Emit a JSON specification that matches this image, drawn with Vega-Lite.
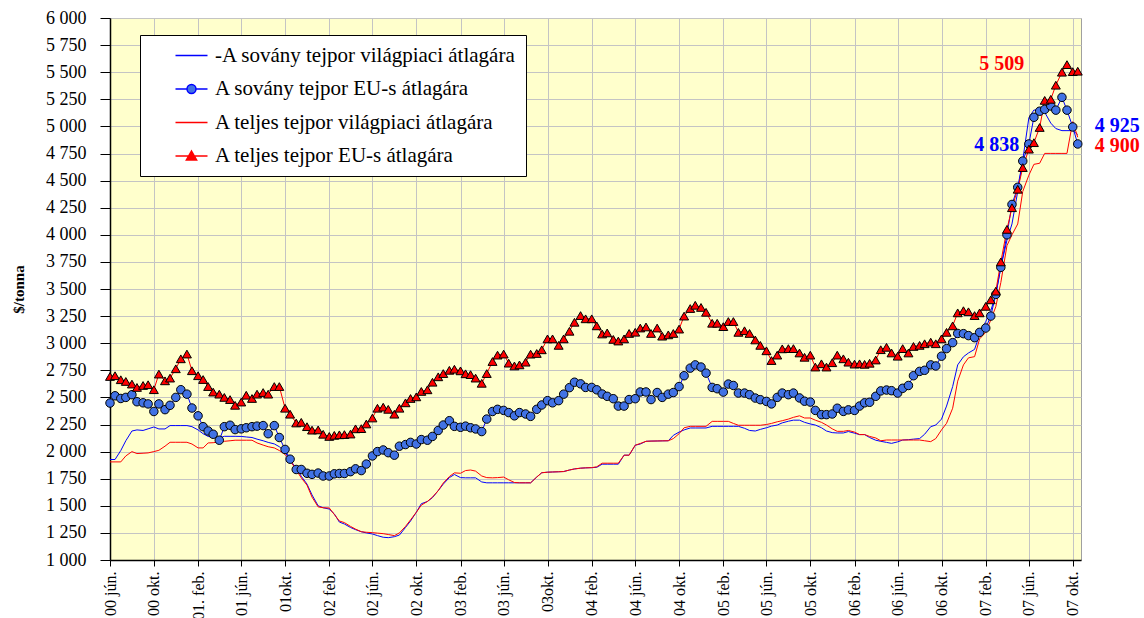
{
  "$schema": "https://vega.github.io/schema/vega-lite/v6.json",
  "width": 971,
  "height": 542,
  "autosize": "none",
  "padding": {"left": 110, "top": 18, "right": 63, "bottom": 58},
  "background": "#FFFFFF",
  "config": {
    "view": {"fill": "#FFFFCC", "stroke": "#A0A0A0", "strokeWidth": 1},
    "locale": {"number": {"decimal": ",", "thousands": " ", "grouping": [3], "currency": ["", " $"]}},
    "font": "Liberation Serif",
    "legend": {"labelFont": "Liberation Serif", "labelFontSize": 21, "labelColor": "#000000", "labelLimit": 600}
  },
  "data": {"values": [
    {"d":"2000-06-01","ws":1927,"s":2448,"wt":1905,"t":2693},
    {"d":"2000-06-15","ws":1927,"s":2515,"wt":1905,"t":2700},
    {"d":"2000-07-01","ws":2010,"s":2490,"wt":1905,"t":2663},
    {"d":"2000-07-15","ws":2100,"s":2500,"wt":1960,"t":2647},
    {"d":"2000-08-01","ws":2190,"s":2525,"wt":2000,"t":2623},
    {"d":"2000-08-15","ws":2200,"s":2460,"wt":1982,"t":2592},
    {"d":"2000-09-01","ws":2195,"s":2450,"wt":1985,"t":2610},
    {"d":"2000-09-15","ws":2210,"s":2440,"wt":1988,"t":2617},
    {"d":"2000-10-01","ws":2227,"s":2370,"wt":2000,"t":2571},
    {"d":"2000-10-15","ws":2209,"s":2440,"wt":2012,"t":2715},
    {"d":"2000-11-01","ws":2209,"s":2387,"wt":2050,"t":2653},
    {"d":"2000-11-15","ws":2240,"s":2427,"wt":2086,"t":2678},
    {"d":"2000-12-01","ws":2240,"s":2500,"wt":2086,"t":2764},
    {"d":"2000-12-15","ws":2240,"s":2571,"wt":2086,"t":2856},
    {"d":"2001-01-01","ws":2240,"s":2530,"wt":2086,"t":2900},
    {"d":"2001-01-15","ws":2230,"s":2402,"wt":2070,"t":2746},
    {"d":"2001-02-01","ws":2200,"s":2330,"wt":2034,"t":2700},
    {"d":"2001-02-15","ws":2165,"s":2230,"wt":2034,"t":2665},
    {"d":"2001-03-01","ws":2140,"s":2190,"wt":2080,"t":2600},
    {"d":"2001-03-15","ws":2130,"s":2160,"wt":2082,"t":2549},
    {"d":"2001-04-01","ws":2126,"s":2105,"wt":2090,"t":2530},
    {"d":"2001-04-15","ws":2141,"s":2230,"wt":2095,"t":2500},
    {"d":"2001-05-01","ws":2141,"s":2243,"wt":2100,"t":2480},
    {"d":"2001-05-15","ws":2141,"s":2203,"wt":2105,"t":2427},
    {"d":"2001-06-01","ws":2140,"s":2210,"wt":2105,"t":2457},
    {"d":"2001-06-15","ws":2135,"s":2220,"wt":2105,"t":2520},
    {"d":"2001-07-01","ws":2130,"s":2230,"wt":2105,"t":2490},
    {"d":"2001-07-15","ws":2115,"s":2235,"wt":2080,"t":2530},
    {"d":"2001-08-01","ws":2100,"s":2240,"wt":2060,"t":2545},
    {"d":"2001-08-15","ws":2085,"s":2165,"wt":2045,"t":2530},
    {"d":"2001-09-01","ws":2071,"s":2240,"wt":2034,"t":2600},
    {"d":"2001-09-15","ws":2045,"s":2130,"wt":2010,"t":2600},
    {"d":"2001-10-01","ws":2000,"s":2020,"wt":1973,"t":2400},
    {"d":"2001-10-15","ws":1910,"s":1930,"wt":1920,"t":2345},
    {"d":"2001-11-01","ws":1850,"s":1835,"wt":1830,"t":2264},
    {"d":"2001-11-15","ws":1773,"s":1835,"wt":1758,"t":2270},
    {"d":"2001-12-01","ws":1700,"s":1800,"wt":1690,"t":2230},
    {"d":"2001-12-15","ws":1600,"s":1790,"wt":1580,"t":2198},
    {"d":"2002-01-01","ws":1500,"s":1802,"wt":1490,"t":2200},
    {"d":"2002-01-15","ws":1482,"s":1775,"wt":1482,"t":2160},
    {"d":"2002-02-01","ws":1470,"s":1775,"wt":1480,"t":2140},
    {"d":"2002-02-15","ws":1425,"s":1795,"wt":1420,"t":2150},
    {"d":"2002-03-01","ws":1350,"s":1798,"wt":1360,"t":2155},
    {"d":"2002-03-15","ws":1332,"s":1798,"wt":1345,"t":2157},
    {"d":"2002-04-01","ws":1300,"s":1815,"wt":1310,"t":2162},
    {"d":"2002-04-15","ws":1280,"s":1841,"wt":1285,"t":2210},
    {"d":"2002-05-01","ws":1261,"s":1825,"wt":1261,"t":2212},
    {"d":"2002-05-15","ws":1250,"s":1885,"wt":1256,"t":2255},
    {"d":"2002-06-01","ws":1240,"s":1960,"wt":1252,"t":2310},
    {"d":"2002-06-15","ws":1225,"s":2000,"wt":1248,"t":2400},
    {"d":"2002-07-01","ws":1210,"s":2015,"wt":1243,"t":2410},
    {"d":"2002-07-15","ws":1206,"s":1990,"wt":1235,"t":2390},
    {"d":"2002-08-01","ws":1215,"s":1967,"wt":1225,"t":2345},
    {"d":"2002-08-15","ws":1230,"s":2050,"wt":1250,"t":2400},
    {"d":"2002-09-01","ws":1300,"s":2065,"wt":1310,"t":2450},
    {"d":"2002-09-15","ws":1360,"s":2085,"wt":1370,"t":2490},
    {"d":"2002-10-01","ws":1440,"s":2070,"wt":1440,"t":2505},
    {"d":"2002-10-15","ws":1519,"s":2111,"wt":1506,"t":2555},
    {"d":"2002-11-01","ws":1540,"s":2105,"wt":1540,"t":2570},
    {"d":"2002-11-15","ws":1575,"s":2140,"wt":1580,"t":2640},
    {"d":"2002-12-01","ws":1640,"s":2195,"wt":1640,"t":2690},
    {"d":"2002-12-15","ws":1700,"s":2245,"wt":1710,"t":2720},
    {"d":"2003-01-01","ws":1760,"s":2285,"wt":1770,"t":2750},
    {"d":"2003-01-15","ws":1789,"s":2233,"wt":1804,"t":2760},
    {"d":"2003-02-01","ws":1760,"s":2224,"wt":1800,"t":2745},
    {"d":"2003-02-15","ws":1758,"s":2235,"wt":1825,"t":2718},
    {"d":"2003-03-01","ws":1758,"s":2220,"wt":1830,"t":2710},
    {"d":"2003-03-15","ws":1758,"s":2209,"wt":1820,"t":2678},
    {"d":"2003-04-01","ws":1720,"s":2185,"wt":1775,"t":2630},
    {"d":"2003-04-15","ws":1712,"s":2300,"wt":1760,"t":2720},
    {"d":"2003-05-01","ws":1712,"s":2370,"wt":1758,"t":2831},
    {"d":"2003-05-15","ws":1712,"s":2390,"wt":1760,"t":2890},
    {"d":"2003-06-01","ws":1712,"s":2380,"wt":1765,"t":2900},
    {"d":"2003-06-15","ws":1712,"s":2360,"wt":1740,"t":2816},
    {"d":"2003-07-01","ws":1712,"s":2330,"wt":1715,"t":2790},
    {"d":"2003-07-15","ws":1712,"s":2360,"wt":1712,"t":2800},
    {"d":"2003-08-01","ws":1712,"s":2347,"wt":1712,"t":2825},
    {"d":"2003-08-15","ws":1712,"s":2325,"wt":1712,"t":2899},
    {"d":"2003-09-01","ws":1765,"s":2390,"wt":1765,"t":2905},
    {"d":"2003-09-15","ws":1805,"s":2430,"wt":1805,"t":2939},
    {"d":"2003-10-01","ws":1810,"s":2470,"wt":1810,"t":3040},
    {"d":"2003-10-15","ws":1812,"s":2450,"wt":1812,"t":3040},
    {"d":"2003-11-01","ws":1814,"s":2470,"wt":1814,"t":2980},
    {"d":"2003-11-15","ws":1816,"s":2530,"wt":1816,"t":3040},
    {"d":"2003-12-01","ws":1830,"s":2590,"wt":1830,"t":3110},
    {"d":"2003-12-15","ws":1840,"s":2640,"wt":1840,"t":3193},
    {"d":"2004-01-01","ws":1847,"s":2625,"wt":1847,"t":3255},
    {"d":"2004-01-15","ws":1850,"s":2592,"wt":1850,"t":3225},
    {"d":"2004-02-01","ws":1852,"s":2592,"wt":1852,"t":3225},
    {"d":"2004-02-15","ws":1855,"s":2570,"wt":1860,"t":3160},
    {"d":"2004-03-01","ws":1884,"s":2531,"wt":1893,"t":3085},
    {"d":"2004-03-15","ws":1884,"s":2510,"wt":1893,"t":3095},
    {"d":"2004-04-01","ws":1884,"s":2488,"wt":1893,"t":3035},
    {"d":"2004-04-15","ws":1884,"s":2420,"wt":1893,"t":3020},
    {"d":"2004-05-01","ws":1967,"s":2420,"wt":1967,"t":3040},
    {"d":"2004-05-15","ws":1967,"s":2480,"wt":1967,"t":3090},
    {"d":"2004-06-01","ws":2059,"s":2488,"wt":2059,"t":3101},
    {"d":"2004-06-15","ws":2070,"s":2550,"wt":2075,"t":3140},
    {"d":"2004-07-01","ws":2095,"s":2550,"wt":2095,"t":3150},
    {"d":"2004-07-15","ws":2097,"s":2480,"wt":2097,"t":3090},
    {"d":"2004-08-01","ws":2098,"s":2545,"wt":2098,"t":3140},
    {"d":"2004-08-15","ws":2099,"s":2500,"wt":2099,"t":3065},
    {"d":"2004-09-01","ws":2100,"s":2530,"wt":2100,"t":3077},
    {"d":"2004-09-15","ws":2150,"s":2545,"wt":2120,"t":3090},
    {"d":"2004-10-01","ws":2180,"s":2600,"wt":2165,"t":3130},
    {"d":"2004-10-15","ws":2200,"s":2700,"wt":2220,"t":3250},
    {"d":"2004-11-01","ws":2218,"s":2770,"wt":2233,"t":3320},
    {"d":"2004-11-15","ws":2218,"s":2800,"wt":2233,"t":3350},
    {"d":"2004-12-01","ws":2218,"s":2780,"wt":2233,"t":3330},
    {"d":"2004-12-15","ws":2218,"s":2724,"wt":2233,"t":3285},
    {"d":"2005-01-01","ws":2233,"s":2592,"wt":2279,"t":3184},
    {"d":"2005-01-15","ws":2233,"s":2580,"wt":2279,"t":3184},
    {"d":"2005-02-01","ws":2233,"s":2549,"wt":2279,"t":3153},
    {"d":"2005-02-15","ws":2233,"s":2623,"wt":2279,"t":3200},
    {"d":"2005-03-01","ws":2233,"s":2610,"wt":2260,"t":3200},
    {"d":"2005-03-15","ws":2233,"s":2540,"wt":2243,"t":3100},
    {"d":"2005-04-01","ws":2215,"s":2540,"wt":2243,"t":3115},
    {"d":"2005-04-15","ws":2195,"s":2525,"wt":2243,"t":3090},
    {"d":"2005-05-01","ws":2190,"s":2494,"wt":2243,"t":3030},
    {"d":"2005-05-15","ws":2205,"s":2479,"wt":2243,"t":2980},
    {"d":"2005-06-01","ws":2220,"s":2463,"wt":2250,"t":2930},
    {"d":"2005-06-15","ws":2235,"s":2440,"wt":2260,"t":2840},
    {"d":"2005-07-01","ws":2245,"s":2500,"wt":2275,"t":2890},
    {"d":"2005-07-15","ws":2265,"s":2540,"wt":2285,"t":2948},
    {"d":"2005-08-01","ws":2280,"s":2525,"wt":2300,"t":2950},
    {"d":"2005-08-15","ws":2290,"s":2540,"wt":2316,"t":2950},
    {"d":"2005-09-01","ws":2290,"s":2495,"wt":2330,"t":2910},
    {"d":"2005-09-15","ws":2270,"s":2465,"wt":2310,"t":2870},
    {"d":"2005-10-01","ws":2255,"s":2457,"wt":2310,"t":2890},
    {"d":"2005-10-15","ws":2245,"s":2380,"wt":2290,"t":2780},
    {"d":"2005-11-01","ws":2220,"s":2341,"wt":2270,"t":2810},
    {"d":"2005-11-15","ws":2190,"s":2341,"wt":2245,"t":2780},
    {"d":"2005-12-01","ws":2175,"s":2347,"wt":2210,"t":2820},
    {"d":"2005-12-15","ws":2172,"s":2400,"wt":2187,"t":2890},
    {"d":"2006-01-01","ws":2172,"s":2371,"wt":2187,"t":2856},
    {"d":"2006-01-15","ws":2185,"s":2385,"wt":2195,"t":2825},
    {"d":"2006-02-01","ws":2170,"s":2380,"wt":2180,"t":2807},
    {"d":"2006-02-15","ws":2157,"s":2420,"wt":2157,"t":2810},
    {"d":"2006-03-01","ws":2157,"s":2450,"wt":2157,"t":2805},
    {"d":"2006-03-15","ws":2130,"s":2455,"wt":2140,"t":2815},
    {"d":"2006-04-01","ws":2105,"s":2510,"wt":2126,"t":2845},
    {"d":"2006-04-15","ws":2095,"s":2560,"wt":2100,"t":2940},
    {"d":"2006-05-01","ws":2085,"s":2568,"wt":2107,"t":2962},
    {"d":"2006-05-15","ws":2076,"s":2562,"wt":2107,"t":2910},
    {"d":"2006-06-01","ws":2090,"s":2540,"wt":2107,"t":2880},
    {"d":"2006-06-15","ws":2107,"s":2584,"wt":2107,"t":2950},
    {"d":"2006-07-01","ws":2110,"s":2610,"wt":2107,"t":2910},
    {"d":"2006-07-15","ws":2115,"s":2700,"wt":2107,"t":2970},
    {"d":"2006-08-01","ws":2120,"s":2740,"wt":2107,"t":2980},
    {"d":"2006-08-15","ws":2160,"s":2750,"wt":2100,"t":2995},
    {"d":"2006-09-01","ws":2230,"s":2800,"wt":2092,"t":3010},
    {"d":"2006-09-15","ws":2245,"s":2790,"wt":2120,"t":2995},
    {"d":"2006-10-01","ws":2300,"s":2880,"wt":2200,"t":3040},
    {"d":"2006-10-15","ws":2420,"s":2950,"wt":2261,"t":3100},
    {"d":"2006-11-01","ws":2600,"s":3005,"wt":2400,"t":3160},
    {"d":"2006-11-15","ws":2800,"s":3090,"wt":2650,"t":3280},
    {"d":"2006-12-01","ws":2875,"s":3088,"wt":2800,"t":3300},
    {"d":"2006-12-15","ws":2910,"s":3070,"wt":2865,"t":3290},
    {"d":"2007-01-01","ws":2943,"s":3051,"wt":2876,"t":3255},
    {"d":"2007-01-15","ws":3080,"s":3100,"wt":3040,"t":3280},
    {"d":"2007-02-01","ws":3200,"s":3140,"wt":3100,"t":3340},
    {"d":"2007-02-15","ws":3300,"s":3250,"wt":3214,"t":3400},
    {"d":"2007-03-01","ws":3450,"s":3450,"wt":3337,"t":3480},
    {"d":"2007-03-15","ws":3700,"s":3700,"wt":3560,"t":3750},
    {"d":"2007-04-01","ws":3950,"s":4000,"wt":3900,"t":4050},
    {"d":"2007-04-15","ws":4100,"s":4280,"wt":4000,"t":4250},
    {"d":"2007-05-01","ws":4400,"s":4438,"wt":4100,"t":4420},
    {"d":"2007-05-15","ws":4690,"s":4680,"wt":4400,"t":4620},
    {"d":"2007-06-01","ws":5080,"s":4838,"wt":4550,"t":4790},
    {"d":"2007-06-15","ws":5151,"s":5084,"wt":4650,"t":4850},
    {"d":"2007-07-01","ws":5151,"s":5140,"wt":4660,"t":4990},
    {"d":"2007-07-15","ws":5130,"s":5157,"wt":4751,"t":5240},
    {"d":"2007-08-01","ws":5030,"s":5188,"wt":4751,"t":5250},
    {"d":"2007-08-15","ws":4980,"s":5150,"wt":4751,"t":5380},
    {"d":"2007-09-01","ws":4961,"s":5268,"wt":4751,"t":5500},
    {"d":"2007-09-15","ws":4961,"s":5150,"wt":4751,"t":5570},
    {"d":"2007-10-01","ws":4961,"s":4995,"wt":5044,"t":5505},
    {"d":"2007-10-15","ws":4925,"s":4838,"wt":4900,"t":5509}
  ]},
  "transform": [{"fold": ["ws", "s", "wt", "t"], "as": ["ser", "v"]}],
  "encoding": {
    "x": {
      "field": "d", "type": "temporal",
      "scale": {"type": "utc", "domain": [{"year": 2000, "month": 6, "date": 1, "utc": true}, {"year": 2007, "month": 10, "date": 24, "utc": true}]},
      "axis": {
        "title": null,
        "values": [
          {"year":2000,"month":6,"date":1,"utc":true},{"year":2000,"month":10,"date":1,"utc":true},
          {"year":2001,"month":2,"date":1,"utc":true},{"year":2001,"month":6,"date":1,"utc":true},{"year":2001,"month":10,"date":1,"utc":true},
          {"year":2002,"month":2,"date":1,"utc":true},{"year":2002,"month":6,"date":1,"utc":true},{"year":2002,"month":10,"date":1,"utc":true},
          {"year":2003,"month":2,"date":1,"utc":true},{"year":2003,"month":6,"date":1,"utc":true},{"year":2003,"month":10,"date":1,"utc":true},
          {"year":2004,"month":2,"date":1,"utc":true},{"year":2004,"month":6,"date":1,"utc":true},{"year":2004,"month":10,"date":1,"utc":true},
          {"year":2005,"month":2,"date":1,"utc":true},{"year":2005,"month":6,"date":1,"utc":true},{"year":2005,"month":10,"date":1,"utc":true},
          {"year":2006,"month":2,"date":1,"utc":true},{"year":2006,"month":6,"date":1,"utc":true},{"year":2006,"month":10,"date":1,"utc":true},
          {"year":2007,"month":2,"date":1,"utc":true},{"year":2007,"month":6,"date":1,"utc":true},{"year":2007,"month":10,"date":1,"utc":true}
        ],
        "labelExpr": "['00 jún.','00 okt.','01. feb.','01 jún.','01okt.','02 feb.','02 jún.','02 okt.','03 feb.','03 jún.','03okt.','04 feb.','04 jún.','04 okt.','05 feb.','05 jún.','05 okt.','06 feb.','06 jún.','06 okt.','07 feb.','07 jún.','07 okt.'][round((utcyear(datum.value)-2000)*3 + (utcmonth(datum.value)-5)/4)]",
        "labelAngle": -90,
        "labelFont": "Liberation Serif",
        "labelFontSize": 16,
        "labelColor": "#000000",
        "labelPadding": 5,
        "labelOverlap": false,
        "labelBound": false,
        "labelFlush": false,
        "tickColor": "#000000",
        "tickSize": 6,
        "domainColor": "#000000",
        "domainWidth": 1.5,
        "grid": true,
        "gridColor": "#C4C4C4",
        "gridWidth": 1
      }
    },
    "y": {
      "field": "v", "type": "quantitative",
      "scale": {"domain": [1000, 6000], "nice": false, "zero": false},
      "axis": {
        "title": "$/tonna",
        "titleFont": "Liberation Sans Narrow",
        "titleFontWeight": "bold",
        "titleFontSize": 15,
        "titleColor": "#000000",
        "titleAngle": -90,
        "titleX": -92,
        "titleY": 271,
        "titleAlign": "center",
        "titleBaseline": "middle",
        "values": [1000,1250,1500,1750,2000,2250,2500,2750,3000,3250,3500,3750,4000,4250,4500,4750,5000,5250,5500,5750,6000],
        "format": ",.0f",
        "labelFont": "Liberation Serif",
        "labelFontSize": 18,
        "labelColor": "#000000",
        "labelPadding": 14,
        "tickColor": "#000000",
        "tickSize": 10,
        "domainColor": "#000000",
        "domainWidth": 1.5,
        "grid": true,
        "gridColor": "#C4C4C4",
        "gridWidth": 1
      }
    }
  },
  "layer": [
    {
      "mark": {"type": "line", "strokeWidth": 1},
      "encoding": {
        "color": {"field": "ser", "type": "nominal", "scale": {"domain": ["wt", "t", "ws", "s"], "range": ["#FF0000", "#FF0000", "#0000FF", "#0000FF"]}, "legend": null}
      }
    },
    {
      "transform": [{"filter": "datum.ser === 's'"}],
      "mark": {"type": "point", "shape": "circle", "filled": true, "fill": "#4172E4", "opacity": 1, "stroke": "#000000", "strokeWidth": 1, "size": 72}
    },
    {
      "transform": [{"filter": "datum.ser === 't'"}],
      "mark": {"type": "point", "shape": "triangle-up", "filled": true, "fill": "#FF0000", "opacity": 1, "stroke": "#000000", "strokeWidth": 1, "size": 80}
    },
    {
      "transform": [{"filter": "datum.ser === 'none'"}],
      "mark": {"type": "point", "filled": true, "opacity": 1, "strokeWidth": 1.5},
      "encoding": {
        "shape": {
          "field": "ser", "type": "nominal",
          "scale": {"domain": ["ws", "s", "wt", "t"], "range": ["M-2,0H2", "M-2,0H-0.56A0.56,0.56,0,1,1,0.56,0A0.56,0.56,0,1,1,-0.56,0M0.56,0H2", "M-2,0H2", "M-2,0H2M0,-0.62L0.64,0.5L-0.64,0.5Z"]},
          "legend": {
            "title": null,
            "orient": "none",
            "legendX": 30,
            "legendY": 17,
            "fillColor": "#FFFFFF",
            "strokeColor": "#000000",
            "padding": 10,
            "symbolOffset": 31,
            "labelOffset": 13,
            "rowPadding": 11.5,
            "labelFont": "Liberation Serif",
            "labelFontSize": 21,
            "labelColor": "#000000",
            "labelLimit": 600,
            "symbolSize": 256,
            "symbolStrokeWidth": 1.5,
            "symbolOpacity": 1,
            "labelExpr": "datum.value === 'ws' ? '-A sovány tejpor világpiaci átlagára' : datum.value === 's' ? 'A sovány tejpor EU-s átlagára' : datum.value === 'wt' ? 'A teljes tejpor világpiaci átlagára' : 'A teljes tejpor EU-s átlagára'"
          }
        },
        "stroke": {
          "field": "ser", "type": "nominal",
          "scale": {"domain": ["ws", "s", "wt", "t"], "range": ["#0000FF", "#0000FF", "#FF0000", "#FF0000"]}
        },
        "fill": {
          "field": "ser", "type": "nominal",
          "scale": {"domain": ["ws", "s", "wt", "t"], "range": ["transparent", "#4172E4", "transparent", "#FF0000"]}
        }
      }
    },
    {
      "transform": [{"filter": "datum.ser === 't' && utcyear(datum.d) === 2007 && utcmonth(datum.d) === 9 && utcdate(datum.d) === 15"}],
      "mark": {"type": "text", "font": "Liberation Serif", "fontWeight": "bold", "fontSize": 20, "color": "#FF0000", "align": "center", "baseline": "middle", "dx": -76, "dy": -7},
      "encoding": {"text": {"field": "v", "type": "quantitative", "format": ",.0f"}}
    },
    {
      "transform": [{"filter": "datum.ser === 's' && utcyear(datum.d) === 2007 && utcmonth(datum.d) === 9 && utcdate(datum.d) === 15"}],
      "mark": {"type": "text", "font": "Liberation Serif", "fontWeight": "bold", "fontSize": 20, "color": "#0000FF", "align": "center", "baseline": "middle", "dx": -81, "dy": 1},
      "encoding": {"text": {"field": "v", "type": "quantitative", "format": ",.0f"}}
    },
    {
      "transform": [{"filter": "datum.ser === 'ws' && utcyear(datum.d) === 2007 && utcmonth(datum.d) === 9 && utcdate(datum.d) === 15"}],
      "mark": {"type": "text", "font": "Liberation Serif", "fontWeight": "bold", "fontSize": 20, "color": "#0000FF", "align": "left", "baseline": "middle", "dx": 17, "dy": -9},
      "encoding": {"text": {"field": "v", "type": "quantitative", "format": ",.0f"}}
    },
    {
      "transform": [{"filter": "datum.ser === 'wt' && utcyear(datum.d) === 2007 && utcmonth(datum.d) === 9 && utcdate(datum.d) === 15"}],
      "mark": {"type": "text", "font": "Liberation Serif", "fontWeight": "bold", "fontSize": 20, "color": "#FF0000", "align": "left", "baseline": "middle", "dx": 17, "dy": 9},
      "encoding": {"text": {"field": "v", "type": "quantitative", "format": ",.0f"}}
    }
  ]
}
